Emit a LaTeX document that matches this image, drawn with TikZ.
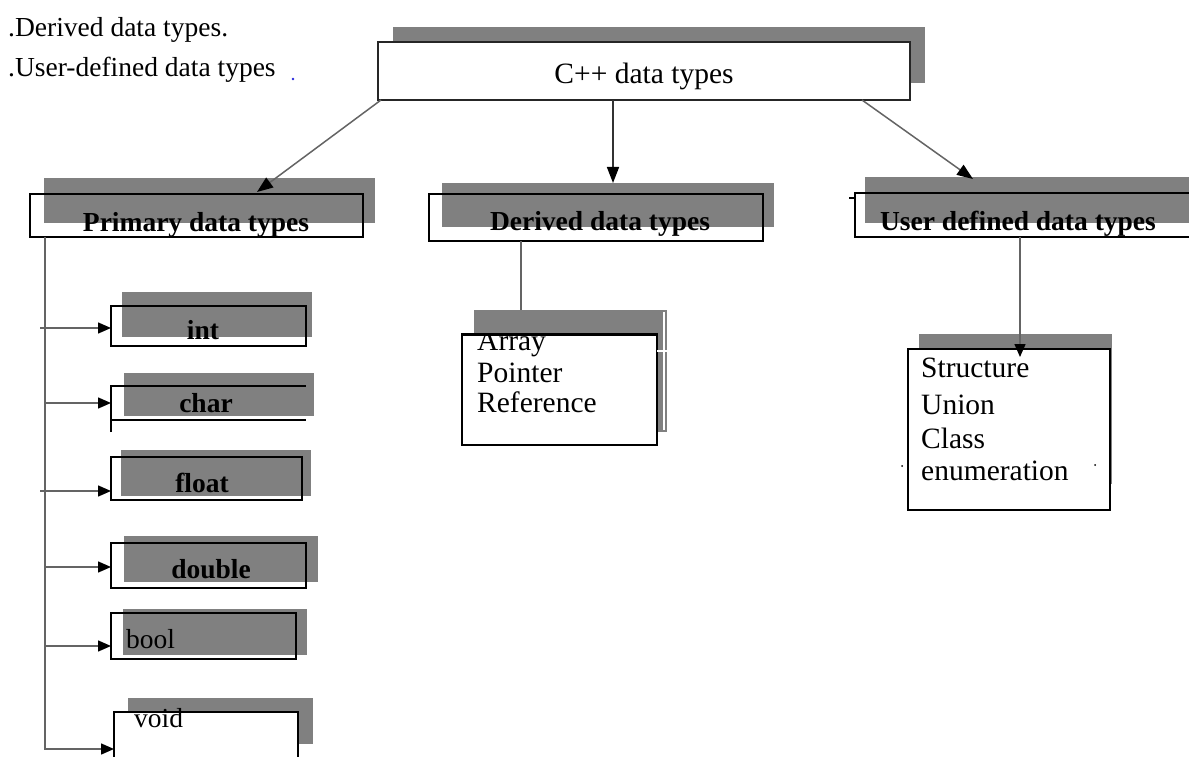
\documentclass[tikz,border=0pt]{standalone}
\usepackage{fontspec}
\setmainfont{Liberation Serif}
\usetikzlibrary{arrows.meta}
\definecolor{shadowgray}{RGB}{128,128,128}
\definecolor{linkgray}{RGB}{100,100,100}
\definecolor{dotblue}{RGB}{40,40,220}

\begin{document}
\begin{tikzpicture}[x=1pt,y=-1pt,
  shadowbox/.style={fill=shadowgray, draw=none, inner sep=0pt, outer sep=0pt, anchor=north west},
  framebox/.style={draw=black, line width=1.6pt, inner sep=0pt, outer sep=0pt, anchor=north west},
  whitebox/.style={framebox, fill=white},
  bare/.style={draw=none, inner sep=0pt, outer sep=0pt, anchor=north west},
  link/.style={draw=linkgray, line width=1.5pt},
  bigtip/.style={-{Triangle[length=16pt,width=12pt,color=black]}},
  smalltip/.style={-{Triangle[length=13pt,width=11pt,color=black]}},
  boldlabel/.style={font=\fontsize{27.5}{33}\selectfont\bfseries, inner sep=0pt, anchor=base},
  plainlabel/.style={font=\fontsize{27.5}{33}\selectfont, inner sep=0pt, anchor=base west},
  listtext/.style={font=\fontsize{29.5}{31}\selectfont, inner sep=0pt, anchor=base west},
]
\useasboundingbox (0,0) rectangle (1189,757);

% heading lines
\node[plainlabel] (t1) at (8,37) {.Derived data types.};
\node[plainlabel] (t2) at (8,77) {.User-defined data types};
\fill[dotblue] (293,79) circle (1.3pt);

% root box
\node[shadowbox, minimum width=532pt, minimum height=56pt] (cppS) at (393,27) {};
\node[whitebox, draw=black!85, line width=2pt, minimum width=532pt, minimum height=58pt] (cpp) at (378,42) {};
\node[font=\fontsize{29.5}{33}\selectfont, inner sep=0pt, anchor=base] (cppT) at (644,84) {C++ data types};

% second level
\node[shadowbox, minimum width=331pt, minimum height=45pt] (primS) at (44,178) {};
\node[framebox, minimum width=333pt, minimum height=43pt] (prim) at (30,194) {};
\node[boldlabel] (primT) at (196,231) {Primary data types};

\node[shadowbox, minimum width=332pt, minimum height=44pt] (derS) at (442,183) {};
\node[framebox, line width=1.3pt, minimum width=334pt, minimum height=47pt] (der) at (429,194) {};
\draw[line width=2.6pt] (der.north west) -- (der.south west);
\node[boldlabel] (derT) at (600,230) {Derived data types};

\node[shadowbox, minimum width=335pt, minimum height=46pt] (userS) at (865,177) {};
\node[framebox, minimum width=345pt, minimum height=44pt] (user) at (855,193) {};
\draw[line width=1.3pt] ([yshift=-5pt]user.north west) -- ++(-6pt,0);
\node[boldlabel] (userT) at (1018,230) {User defined data types};

% primary members
\node[shadowbox, minimum width=190pt, minimum height=45pt] (intS) at (122,292) {};
\node[framebox, minimum width=195pt, minimum height=40pt] (int) at (111,306) {};
\node[boldlabel] (intT) at (203,339) {int};

\node[shadowbox, minimum width=190pt, minimum height=43pt] (charS) at (124,373) {};
\node[bare, minimum width=195pt, minimum height=34pt] (char) at (111,386) {};
\draw[line width=2.6pt] ([yshift=-12pt]char.south west) -- (char.north west) -- (char.north east);
\draw[line width=1.5pt] (char.south west) -- (char.south east);
\node[boldlabel] (charT) at (206,412) {char};

\node[shadowbox, minimum width=190pt, minimum height=46pt] (floatS) at (121,450) {};
\node[framebox, minimum width=191pt, minimum height=43pt] (float) at (111,457) {};
\node[boldlabel] (floatT) at (202,492) {float};

\node[shadowbox, minimum width=194pt, minimum height=46pt] (doubleS) at (124,536) {};
\node[framebox, minimum width=195pt, minimum height=45pt] (double) at (111,543) {};
\node[boldlabel] (doubleT) at (211,578) {double};

\node[shadowbox, minimum width=184pt, minimum height=46pt] (boolS) at (123,609) {};
\node[framebox, minimum width=185pt, minimum height=46pt] (bool) at (111,613) {};
\node[plainlabel] (boolT) at (126,648) {bool};

\node[shadowbox, minimum width=185pt, minimum height=46pt] (voidS) at (128,698) {};
\node[whitebox, minimum width=184pt, minimum height=60pt] (void) at (114,712) {};
\node[plainlabel] (voidT) at (134,727) {void};

% derived members
\node[shadowbox, minimum width=193pt, minimum height=122pt] (arrS) at (474,310) {};
\draw[white, line width=1.2pt] (664,312) -- (664,430);
\node[whitebox, minimum width=195pt, minimum height=111pt] (arr) at (462,334) {};
\begin{scope}
  \clip (arr.north west) rectangle (arr.south east);
  \node[listtext] (arrT1) at (477,350) {Array};
\end{scope}
\draw[line width=3pt] (arr.north west) -- (arr.north east);
\draw[white, line width=2pt] ([yshift=-17pt]arr.north east) -- ++(11pt,0);
\node[listtext] (arrT2) at (477,382) {Pointer};
\node[listtext] (arrT3) at (477,412) {Reference};

% user defined members
\node[shadowbox, minimum width=193pt, minimum height=150pt] (structS) at (919,334) {};
\node[whitebox, minimum width=202pt, minimum height=161pt] (struct) at (908,349) {};
\node[listtext] (stT1) at (921,377) {Structure};
\node[listtext] (stT2) at (921,414) {Union};
\node[listtext] (stT3) at (921,448) {Class};
\node[listtext] (stT4) at (921,480) {enumeration};
\fill (902,466) circle (1pt);
\fill (1095,465) circle (1pt);

% connectors from the root
\draw[link, bigtip] ([xshift=3pt]cpp.south west) -- ([xshift=60.5pt,yshift=2pt]prim.north);
\draw[link, draw=black!80, bigtip] ([xshift=-31pt]cpp.south) -- ([xshift=5pt]derS.north);
\draw[link, bigtip] ([xshift=-48pt]cpp.south east) -- ([xshift=-59.5pt,yshift=-2pt]userS.north);

% primary trunk and branches
\coordinate (trunk) at ([xshift=15pt]prim.south west);
\draw[link, smalltip] (trunk) |- ([yshift=-37pt]void.north west);
\draw[link, smalltip] ([xshift=-5pt,yshift=-2pt]int.west -| trunk) -- ([yshift=-2pt]int.west);
\draw[link, smalltip] (char.west -| trunk) -- (char.west);
\draw[link, smalltip] ([xshift=-5pt,yshift=-12.5pt]float.west -| trunk) -- ([yshift=-12.5pt]float.west);
\draw[link, smalltip] ([yshift=-1.5pt]double.west -| trunk) -- ([yshift=-1.5pt]double.west);
\draw[link, smalltip] ([yshift=-10pt]bool.west -| trunk) -- ([yshift=-10pt]bool.west);

% derived and user defined links
\draw[link] ([xshift=-75pt]der.south) -- ([xshift=-49.5pt]arrS.north);
\draw[link, smalltip] ([xshift=-7.5pt]user.south) -- ([xshift=11pt,yshift=-8pt]struct.north);
\end{tikzpicture}
\end{document}
